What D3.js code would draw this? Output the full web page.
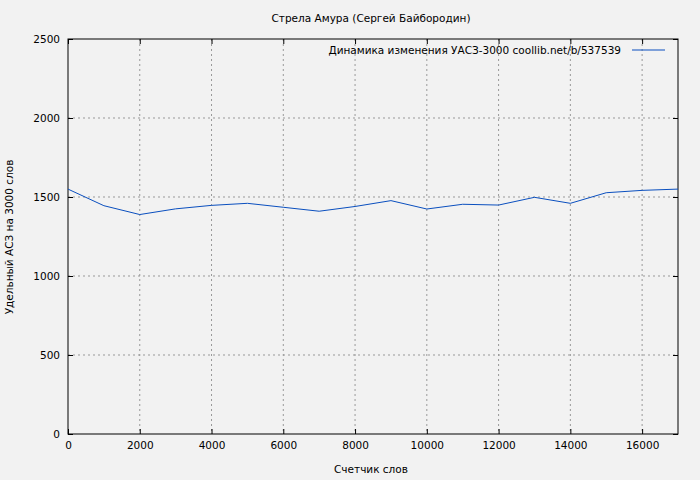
<!DOCTYPE html><html><head><meta charset="utf-8"><script src="https://d3js.org/d3.v7.min.js"></script>
<style>body{margin:0;background:#f2f2f2}text{font-family:Verdana,"DejaVu Sans",sans-serif;font-size:10.5px;fill:#000}</style></head><body><svg width="700" height="480"></svg><script>
const xs=[0,1000,2000,3000,4000,5000,6000,7000,8000,9000,10000,11000,12000,13000,14000,15000,16000,17000];
const ys=[1550,1445,1389,1425,1447,1460,1435,1410,1440,1477,1424,1454,1449,1498,1460,1527,1542,1550];
const xTicks=[0,2000,4000,6000,8000,10000,12000,14000,16000];
const yTicks=[0,500,1000,1500,2000,2500];
const svg=d3.select("svg");
svg.append("rect").attr("width",700).attr("height",480).attr("fill","#f2f2f2");
const L=68,R=678,T=39,B=434;
const x=d3.scaleLinear().domain([0,17000]).range([L,R]);
const y=d3.scaleLinear().domain([0,2500]).range([B,T]);
const g=svg.append("g");
xTicks.slice(1).forEach(t=>g.append("line").attr("x1",x(t)).attr("x2",x(t)).attr("y1",T).attr("y2",B).attr("stroke","#999").attr("stroke-dasharray","2,3"));
yTicks.slice(1,-1).forEach(t=>g.append("line").attr("x1",L).attr("x2",R).attr("y1",y(t)).attr("y2",y(t)).attr("stroke","#999").attr("stroke-dasharray","2,3"));
svg.append("rect").attr("x",L).attr("y",T).attr("width",R-L).attr("height",B-T).attr("fill","none").attr("stroke","#000");
svg.append("g").attr("transform",`translate(0,${B})`).call(d3.axisBottom(x).tickValues(xTicks).tickSize(-5).tickPadding(8).tickFormat(d3.format("d"))).call(a=>a.select(".domain").remove());
svg.append("g").attr("transform",`translate(${L},0)`).call(d3.axisLeft(y).tickValues(yTicks).tickSize(-5).tickPadding(8).tickFormat(d3.format("d"))).call(a=>a.select(".domain").remove());
svg.append("g").attr("transform",`translate(${R},0)`).call(d3.axisRight(y).tickValues(yTicks).tickSize(-5).tickFormat("")).call(a=>a.select(".domain").remove());
svg.append("g").attr("transform",`translate(0,${T})`).call(d3.axisTop(x).tickValues(xTicks).tickSize(-5).tickFormat("")).call(a=>a.select(".domain").remove());
svg.selectAll(".tick text").style("font-family","Verdana,'DejaVu Sans',sans-serif").style("font-size","10.5px");
svg.append("path").datum(xs.map((v,i)=>[v,ys[i]])).attr("d",d3.line().x(d=>x(d[0])).y(d=>y(d[1]))).attr("fill","none").attr("stroke","#0a4fbf").attr("stroke-width",1);
svg.append("text").attr("x",371).attr("y",22).attr("text-anchor","middle").text("Стрела Амура (Сергей Байбородин)");
svg.append("text").attr("x",371).attr("y",473).attr("text-anchor","middle").text("Счетчик слов");
svg.append("text").attr("transform","translate(13,237) rotate(-90)").attr("text-anchor","middle").text("Удельный АСЗ на 3000 слов");
svg.append("text").attr("x",621).attr("y",54).attr("text-anchor","end").text("Динамика изменения УАСЗ-3000  coollib.net/b/537539");
svg.append("line").attr("x1",632).attr("x2",665).attr("y1",50).attr("y2",50).attr("stroke","#0a4fbf");
</script></body></html>
